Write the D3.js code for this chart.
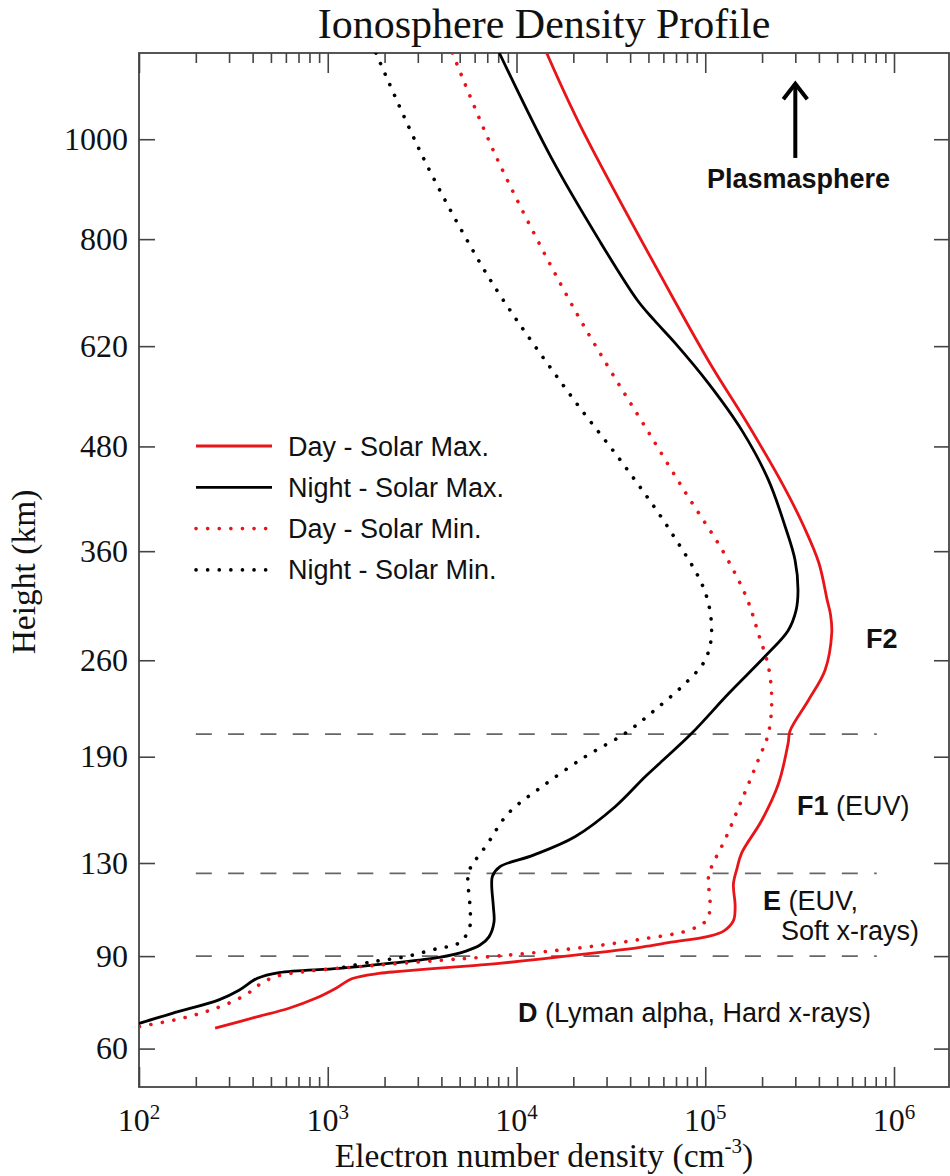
<!DOCTYPE html>
<html><head><meta charset="utf-8">
<script src="https://cdn.jsdelivr.net/npm/d3@7/dist/d3.min.js"></script>
<style>body{margin:0;background:#fff}</style>
</head><body>
<svg id="chart" width="950" height="1176"></svg>
<script>
// ---- data: [electron density (cm^-3), height (km)] ----
const seriesNames = ["Day - Solar Max.", "Night - Solar Max.", "Day - Solar Min.", "Night - Solar Min."];

const daySolarMax = [
  [1.445e4,1200],[2.17e4,1031],[6.83e4,694],[1.086e5,589],[1.67e5,510],[2.61e5,431],[3.33e5,386],
  [4.0e5,348],[4.43e5,312],[4.61e5,299],[4.68e5,283],[4.31e5,252],[3.52e5,229],[2.81e5,207],
  [2.75e5,199],[2.44e5,173],[1.99e5,152],[1.56e5,135],[1.47e5,127],[1.41e5,120],[1.44e5,110],
  [1.41e5,104],[1.25e5,99.7],[1.04e5,97.6],[6.77e4,95.4],[4.61e4,93.4],[3.0e4,91.7],[2.04e4,90.4],
  [1.33e4,88.9],[8.08e3,87.3],[5.9e3,86.5],[3.89e3,85.6],[2.41e3,84.4],[1.87e3,83.7],
  [1.35e3,81.9],[1.10e3,78.5],[863,75.2],[623,72.0],[415,69.2],[253,65.9]
];
const nightSolarMax = [
  [8.11e3,1200],[1.53e4,960],[2.72e4,800],[4.35e4,694],[5.35e4,661],[6.91e4,625],[1.04e5,565],[1.56e5,501],[2.16e5,439],
  [2.65e5,386],[2.99e5,351],[3.10e5,322],[3.03e5,303],[2.75e5,285],[2.07e5,263],[1.33e5,234],
  [8.48e4,205.5],[5.76e4,186],[4.80e4,177.4],[3.33e4,159.7],[2.04e4,143.3],[1.23e4,133.9],
  [8.18e3,128.2],[7.46e3,123.7],[7.39e3,119.5],[7.54e3,109.9],[7.60e3,103.4],[7.15e3,97.4],
  [6.41e3,94.2],[5.40e3,91.9],[3.89e3,89.5],[2.11e3,87.3],[1.15e3,85.5],[552,84.0],[424,82.0],
  [339,77.9],[265,74.7],[150,70.4],[100,67.3],[79,65.7]
];
const daySolarMin = [
  [4.58e3,1200],[7.86e3,960],[1.90e4,694],[3.06e4,589],[4.80e4,505.5],[7.91e4,423],[1.257e5,358],
  [1.66e5,314],[1.91e5,282.5],[2.16e5,255],[2.25e5,229],[2.16e5,205.5],[1.91e5,188],[1.56e5,163.5],
  [1.27e5,141.6],[1.08e5,128.2],[1.04e5,123.4],[1.06e5,109.9],[1.02e5,104.3],[8.30e4,100.2],
  [4.51e4,96.4],[2.45e4,93.6],[1.33e4,91.5],[7.24e3,89.8],[3.89e3,88.4],[1.72e3,86.5],[764,84.4],
  [530,82.6],[432,79.7],[367,76.3],[255,72.0],[170,68.9],[100,66.3],[79,65.1]
];
const nightSolarMin = [
  [1.80e3,1200],[3.21e3,960],[5.79e3,783],[8.48e3,694],[1.96e4,546],[3.76e4,455],[6.64e4,379],
  [9.97e4,320],[1.08e5,282.5],[9.97e4,260],[8.13e4,244],[5.42e4,222],[3.76e4,205.5],[2.31e4,190],
  [1.36e4,171.3],[9.05e3,156],[6.95e3,139],[5.90e3,129.8],[5.55e3,125],[5.67e3,109.9],[5.67e3,101.8],
  [5.23e3,96.5],[4.72e3,94.2],[3.89e3,93.0],[2.59e3,89.8],[1.72e3,87.9],[1.16e3,85.6]
];

const xTickExponents = [2, 3, 4, 5, 6];
const yTickValues = [60, 90, 130, 190, 260, 360, 480, 620, 800, 1000];
const layerBoundaries = [90, 125, 205];      // km
const boundaryExtent = [200, 8.1e5];         // density range of the dashed lines
const plasmasphereArrow = {density: 3e5, from: 960, to: 1128};

// ---- layout ----
const svg = d3.select("#chart");
const L = 139, R = 949, T = 53, B = 1087;
const x = d3.scaleLog().domain([1e2, 1.956e6]).range([L, R]);
const y = d3.scalePow().exponent(0.27).domain([50, 1200]).range([B, T]);

const RED = "#e81418", AX = "#444";
const serif = "'Liberation Serif','Times New Roman',serif";
const sans = "'Liberation Sans',Arial,Helvetica,sans-serif";

svg.append("defs").append("clipPath").attr("id","clip")
  .append("rect").attr("x",L).attr("y",T).attr("width",R-L).attr("height",B-T);

// title
svg.append("text").attr("x",(L+R)/2).attr("y",38).attr("text-anchor","middle")
  .style("font-family",serif).style("font-size","42px").attr("fill","#111")
  .text("Ionosphere Density Profile");

// ticks
const majors = xTickExponents.map(e => Math.pow(10,e));
const minors = [];
xTickExponents.forEach(e => { for (let m=2;m<=9;m++){ const v=m*Math.pow(10,e); if (v < x.domain()[1]) minors.push(v);} });

function styleAxis(g){
  g.select(".domain").remove();
  g.selectAll(".tick line").attr("stroke",AX).attr("stroke-width",1.6);
}
svg.append("g").attr("transform",`translate(0,${B})`)
  .call(d3.axisBottom(x).tickValues(majors).tickSizeInner(-20).tickSizeOuter(0).tickFormat(()=>""))
  .call(styleAxis);
svg.append("g").attr("transform",`translate(0,${B})`)
  .call(d3.axisBottom(x).tickValues(minors).tickSizeInner(-10).tickSizeOuter(0).tickFormat(()=>""))
  .call(styleAxis);
svg.append("g").attr("transform",`translate(0,${T})`)
  .call(d3.axisTop(x).tickValues(majors).tickSizeInner(-20).tickSizeOuter(0).tickFormat(()=>""))
  .call(styleAxis);
svg.append("g").attr("transform",`translate(0,${T})`)
  .call(d3.axisTop(x).tickValues(minors).tickSizeInner(-10).tickSizeOuter(0).tickFormat(()=>""))
  .call(styleAxis);
const yl = svg.append("g").attr("transform",`translate(${L},0)`)
  .call(d3.axisLeft(y).tickValues(yTickValues).tickSizeInner(-16).tickSizeOuter(0).tickPadding(11).tickFormat(d3.format("d")))
  .call(styleAxis);
yl.selectAll(".tick text").style("font-family",serif).style("font-size","32px").attr("fill","#111");
svg.append("g").attr("transform",`translate(${R},0)`)
  .call(d3.axisRight(y).tickValues(yTickValues).tickSizeInner(-15).tickSizeOuter(0).tickFormat(()=>""))
  .call(styleAxis);

// x tick labels 10^n
const xl = svg.append("g").selectAll("text").data(xTickExponents).join("text")
  .attr("x", e => x(Math.pow(10,e))).attr("y", B+44).attr("text-anchor","middle")
  .style("font-family",serif).attr("fill","#111");
xl.append("tspan").style("font-size","32px").text("10");
xl.append("tspan").style("font-size","21px").attr("dy",-12).text(e => e);

// frame
svg.append("rect").attr("x",L).attr("y",T).attr("width",R-L).attr("height",B-T)
  .attr("fill","none").attr("stroke",AX).attr("stroke-width",1.8);

// axis titles
const xt = svg.append("text").attr("x",(L+R)/2).attr("y",1167).attr("text-anchor","middle")
  .style("font-family",serif).style("font-size","33.5px").attr("fill","#111");
xt.append("tspan").text("Electron number density (cm");
xt.append("tspan").style("font-size","21px").attr("dy",-14).text("-3");
xt.append("tspan").attr("dy",14).text(")");
svg.append("text").attr("transform",`translate(35,${(T+B)/2+2}) rotate(-90)`).attr("text-anchor","middle")
  .style("font-family",serif).style("font-size","33.5px").attr("fill","#111").text("Height (km)");

// layer boundaries
svg.append("g").selectAll("line").data(layerBoundaries).join("line")
  .attr("x1",x(boundaryExtent[0])).attr("x2",x(boundaryExtent[1]))
  .attr("y1",d=>y(d)).attr("y2",d=>y(d))
  .attr("stroke","#666").attr("stroke-width",1.8).attr("stroke-dasharray","16,16.3");

// curves
const line = d3.line().x(d=>x(d[0])).y(d=>y(d[1])).curve(d3.curveCatmullRom.alpha(0.5));
const series = [
  {data: daySolarMax, color: RED, dotted: false},
  {data: nightSolarMax, color: "#000", dotted: false},
  {data: daySolarMin, color: RED, dotted: true},
  {data: nightSolarMin, color: "#000", dotted: true}
];
const cg = svg.append("g").attr("clip-path","url(#clip)");
function styleLine(sel, s){
  sel.attr("fill","none").attr("stroke",s.color)
    .attr("stroke-width", s.dotted ? 3.6 : 2.8)
    .attr("stroke-linecap", s.dotted ? "round" : "butt")
    .attr("stroke-linejoin","round")
    .attr("stroke-dasharray", s.dotted ? "0.1,11.5" : null);
}
series.forEach(s => cg.append("path").attr("d", line(s.data)).call(styleLine, s));

// legend
const lg = svg.append("g");
series.forEach((s,i) => {
  const ly = 446 + i*41.3;
  lg.append("line").attr("x1",196).attr("x2",272).attr("y1",ly).attr("y2",ly).call(styleLine, s);
  lg.append("text").attr("x",288).attr("y",ly+9.5)
    .style("font-family",sans).style("font-size","27px").attr("fill","#111").text(seriesNames[i]);
});

// plasmasphere arrow
const ax = x(plasmasphereArrow.density), ay0 = y(plasmasphereArrow.from), ay1 = y(plasmasphereArrow.to);
svg.append("line").attr("x1",ax).attr("x2",ax).attr("y1",ay0).attr("y2",ay1+1)
  .attr("stroke","#000").attr("stroke-width",4);
svg.append("path").attr("d",`M${ax-12},${ay1+16.5}L${ax},${ay1+1}L${ax+12},${ay1+16.5}`)
  .attr("fill","none").attr("stroke","#000").attr("stroke-width",4).attr("stroke-linejoin","miter");

// annotations
function ann(xp, yp, bold, rest){
  const t = svg.append("text").attr("x",xp).attr("y",yp)
    .style("font-family",sans).style("font-size","27px").attr("fill","#111");
  if (bold) t.append("tspan").style("font-weight","bold").text(bold);
  if (rest) t.append("tspan").text(rest);
  return t;
}
ann(707, 187.5, "Plasmasphere", null);
ann(866, 647.5, "F2", null);
ann(797, 815, "F1", " (EUV)");
ann(763, 909.5, "E", " (EUV,");
ann(781, 940, null, "Soft x-rays)");
ann(518, 1021.5, "D", " (Lyman alpha, Hard x-rays)");
</script>
</body></html>
